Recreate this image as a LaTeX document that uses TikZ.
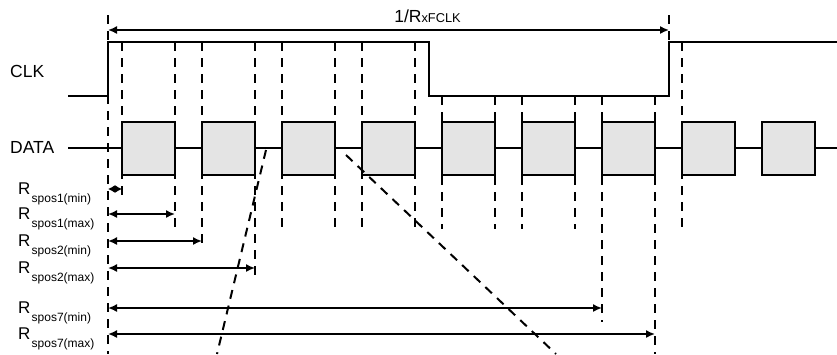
\documentclass[tikz,border=0pt]{standalone}
\usepackage{fontspec}
\setmainfont{Liberation Sans}
\usetikzlibrary{arrows.meta}
\definecolor{boxgray}{RGB}{228,228,228}
\newcommand{\rlabel}[1]{{\fontsize{17}{17}\selectfont R}\kern1.2pt\raisebox{-8pt}{\fontsize{12}{12}\selectfont #1}}
\begin{document}
\begin{tikzpicture}[x=1pt,y=-1pt,
  wave/.style={line width=2pt, line join=miter},
  vdash/.style={line width=2pt, dash pattern=on 9pt off 7pt},
  databox/.style={fill=boxgray, draw=black, line width=2pt},
  meas/.style={line width=1.6pt, {Latex[length=9pt,width=8pt]}-{Latex[length=9pt,width=8pt]}},
  sig/.style={anchor=west, inner sep=0pt, font=\fontsize{17.5}{17.5}\selectfont},
  rlab/.style={anchor=base west, inner sep=0pt}]
\useasboundingbox (0,0) rectangle (837,354);

% dashed timing markers
\foreach \x/\a/\b in {108/15/354, 669/15/42, 122/42/197, 175/42/229, 202/42/250,
  255/42/282, 282/42/229, 335/42/229, 362/42/229, 415/42/229, 442/96/229,
  495/96/229, 522/96/229, 575/96/229, 602/96/322, 655/96/354, 682/42/229}
  \draw[vdash] (\x,\a) -- (\x,\b);

% signal names
\node[sig] (clk) at (10,71) {CLK};
\node[sig] (data) at (10,147) {DATA};

% CLK waveform
\draw[wave] (68,96) -- (108,96) -- (108,42) -- (429,42) -- (429,96) -- (669,96) -- (669,42) -- (837,42);

% DATA waveform
\draw[wave] (68,148) -- (837,148);
\foreach \k in {0,...,8}
  \draw[databox] ({122+80*\k},122) rectangle ({175+80*\k},175);

% period arrow
\coordinate (p0) at (108,30);
\coordinate (p1) at (669,30);
\draw[meas] (p0) -- (p1);
\node[anchor=base, inner sep=0pt] (per) at (427.5,22) {{\fontsize{17.5}{17.5}\selectfont 1/R}{\fontsize{12.8}{12.8}\selectfont xFCLK}};

% measurement arrows
\draw[line width=1.6pt, {Latex[length=7pt,width=8pt]}-{Latex[length=7pt,width=8pt]}] (108,189) -- (122,189);
\draw[meas] (108,214) -- (175,214);
\draw[meas] (108,241) -- (202,241);
\draw[meas] (108,268) -- (255,268);
\draw[meas] (108,308) -- (602,308);
\draw[meas] (108,334) -- (655,334);

% labels
\node[rlab] (r1) at (18,194.5) {\rlabel{spos1(min)}};
\node[rlab] (r2) at (18,219.5) {\rlabel{spos1(max)}};
\node[rlab] (r3) at (18,246.5) {\rlabel{spos2(min)}};
\node[rlab] (r4) at (18,273.5) {\rlabel{spos2(max)}};
\node[rlab] (r5) at (18,313.5) {\rlabel{spos7(min)}};
\node[rlab] (r6) at (18,339.5) {\rlabel{spos7(max)}};

% zoom indicator lines
\draw[vdash] (266,150) -- (217,354);
\draw[vdash] (346,155) -- (556,354);
\end{tikzpicture}
\end{document}
